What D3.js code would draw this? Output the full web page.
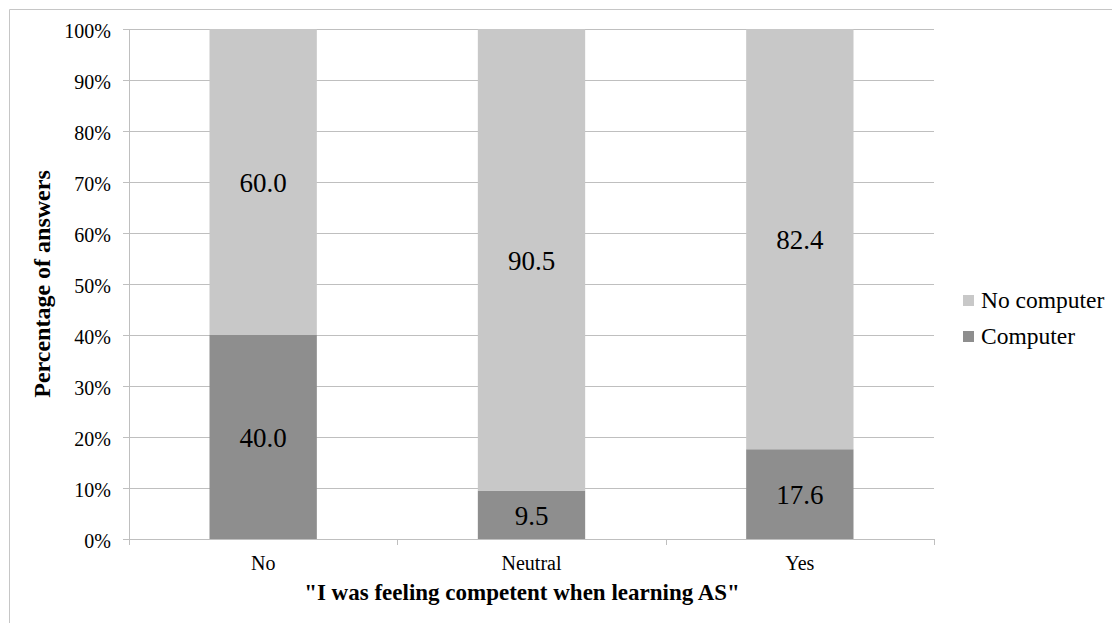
<!DOCTYPE html>
<html><head><meta charset="utf-8">
<script src="https://cdn.jsdelivr.net/npm/d3@7/dist/d3.min.js"></script>
<style>body{margin:0;background:#fff} svg text{font-family:"Liberation Serif","Times New Roman",Times,"DejaVu Serif",serif;}</style>
</head><body>
<svg id="c" width="1112" height="623"></svg>
<script>
const categories = ["No", "Neutral", "Yes"];
const computer = [40.0, 9.5, 17.6];
const noComputer = [60.0, 90.5, 82.4];
const seriesNames = ["Computer", "No computer"];
const seriesColors = ["#8e8e8e", "#c8c8c8"];
const yTicks = [0,10,20,30,40,50,60,70,80,90,100];
const xTitle = '"I was feeling competent when learning AS"';
const yTitle = "Percentage of answers";

const svg = d3.select("#c");
const L = 129, R = 934, T = 29, B = 539;

// outer frame
svg.append("line").attr("x1",9.5).attr("x2",1112).attr("y1",9.5).attr("y2",9.5).attr("stroke","#c6c6c6");
svg.append("line").attr("x1",9.5).attr("x2",9.5).attr("y1",9.5).attr("y2",623).attr("stroke","#c6c6c6");

const x = d3.scaleBand().domain(categories).range([L, R]).paddingInner(0.6).paddingOuter(0.3);
const xOuter = d3.scaleBand().domain(categories).range([L, R]);
const y = d3.scaleLinear().domain([0,100]).range([B, T]);

// gridlines
svg.append("g").selectAll("line").data(yTicks).join("line")
  .attr("x1", L-6).attr("x2", R).attr("y1", d=>Math.round(y(d))+0.5).attr("y2", d=>Math.round(y(d))+0.5)
  .attr("stroke","#bfbfbf").attr("stroke-width",1);
// y axis line
svg.append("line").attr("x1",L+0.5).attr("x2",L+0.5).attr("y1",T).attr("y2",B+5).attr("stroke","#bfbfbf");
// x tick marks
const bounds = [L, xOuter("Neutral"), xOuter("Yes"), R];
svg.append("g").selectAll("line").data(bounds).join("line")
  .attr("x1", d=>Math.round(d)+0.5).attr("x2", d=>Math.round(d)+0.5).attr("y1", B).attr("y2", B+6)
  .attr("stroke","#bfbfbf");

// y tick labels
svg.append("g").selectAll("text").data(yTicks).join("text")
  .attr("x", L-18).attr("y", d=>y(d)).attr("dy","0.43em").attr("text-anchor","end")
  .attr("font-size",20).attr("fill","#000").text(d=>d+"%");

// stacks
const rows = categories.map((c,i)=>({cat:c, Computer:computer[i], "No computer":noComputer[i]}));
const stack = d3.stack().keys(seriesNames)(rows);
stack.forEach((s,si)=>{
  const g = svg.append("g");
  g.selectAll("rect").data(s).join("rect")
    .attr("x", d=>x(d.data.cat)).attr("width", x.bandwidth())
    .attr("y", d=>y(d[1])).attr("height", d=>y(d[0])-y(d[1]))
    .attr("fill", seriesColors[si]);
  g.selectAll("text").data(s).join("text")
    .attr("x", d=>x(d.data.cat)+x.bandwidth()/2).attr("y", d=>(y(d[0])+y(d[1]))/2)
    .attr("dy","0.38em").attr("text-anchor","middle")
    .attr("font-size",27).attr("fill","#000")
    .text(d=>(d[1]-d[0]).toFixed(1));
});

// category labels
svg.append("g").selectAll("text").data(categories).join("text")
  .attr("x", d=>xOuter(d)+xOuter.bandwidth()/2).attr("y", 570).attr("text-anchor","middle")
  .attr("font-size",20).attr("fill","#000").text(d=>d);

// axis titles
svg.append("text").attr("x",522).attr("y",600).attr("text-anchor","middle")
  .attr("font-size",23).attr("font-weight","bold").text(xTitle);
svg.append("text").attr("transform",`translate(50,${(T+B)/2}) rotate(-90)`).attr("text-anchor","middle")
  .attr("font-size",24).attr("font-weight","bold").text(yTitle);

// legend
const leg = [{n:"No computer", c:seriesColors[1], y:308},{n:"Computer", c:seriesColors[0], y:344}];
const lg = svg.append("g").selectAll("g").data(leg).join("g");
lg.append("rect").attr("x",963).attr("y",d=>d.y-13).attr("width",11).attr("height",11).attr("fill",d=>d.c);
lg.append("text").attr("x",981).attr("y",d=>d.y)
  .attr("font-size",23.5).attr("fill","#000").text(d=>d.n);
</script>
</body></html>
